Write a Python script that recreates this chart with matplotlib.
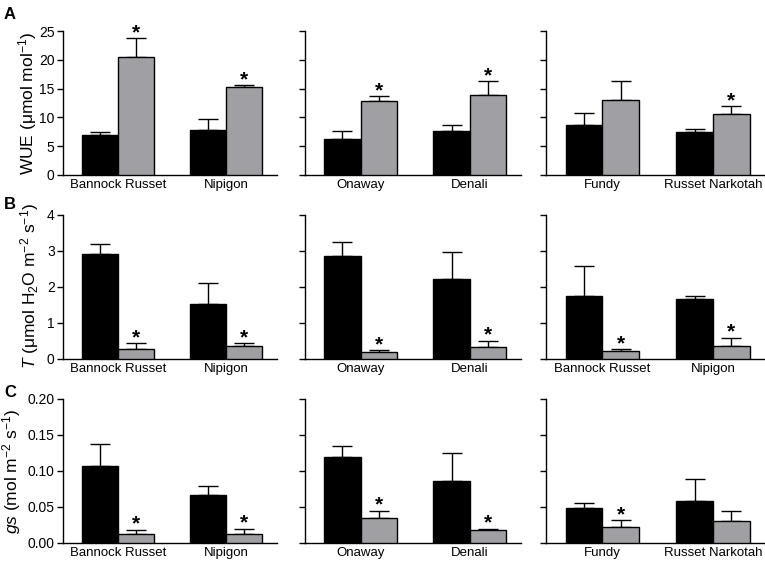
import numpy as np
import matplotlib
matplotlib.use("Agg")
from matplotlib import pyplot as plt

plt.rcParams['font.family'] = ['Liberation Sans', 'DejaVu Sans']
plt.rcParams['mathtext.fontset'] = 'custom'
plt.rcParams['mathtext.rm'] = 'Liberation Sans'
plt.rcParams['mathtext.it'] = 'Liberation Sans:italic'

# cultivar names per panel (row, column)
names_A = [["Bannock Russet", "Nipigon"], ["Onaway", "Denali"], ["Fundy", "Russet Narkotah"]]
names_B = [["Bannock Russet", "Nipigon"], ["Onaway", "Denali"], ["Bannock Russet", "Nipigon"]]
names_C = [["Bannock Russet", "Nipigon"], ["Onaway", "Denali"], ["Fundy", "Russet Narkotah"]]

# WUE
wue_black = [[6.9, 7.8], [6.25, 7.6], [8.75, 7.4]]
wue_black_err = [[0.6, 1.9], [1.45, 1.15], [2.05, 0.5]]
wue_gray = [[20.4, 15.25], [12.8, 13.9], [13.05, 10.6]]
wue_gray_err = [[3.3, 0.3], [0.9, 2.4], [3.3, 1.3]]
wue_star = [[True, True], [True, True], [False, True]]

# Transpiration
t_black = [[2.9, 1.51], [2.86, 2.22], [1.75, 1.64]]
t_black_err = [[0.28, 0.6], [0.38, 0.75], [0.82, 0.11]]
t_gray = [[0.27, 0.36], [0.18, 0.33], [0.2, 0.36]]
t_gray_err = [[0.15, 0.06], [0.05, 0.17], [0.06, 0.22]]
t_star = [[True, True], [True, True], [True, True]]

# Stomatal conductance
gs_black = [[0.1065, 0.067], [0.12, 0.0855], [0.049, 0.0585]]
gs_black_err = [[0.031, 0.012], [0.015, 0.04], [0.006, 0.031]]
gs_gray = [[0.013, 0.013], [0.035, 0.0185], [0.022, 0.03]]
gs_gray_err = [[0.0055, 0.007], [0.01, 0.0015], [0.01, 0.014]]
gs_star = [[True, True], [True, True], [True, False]]

rows = [
    ("A", names_A, wue_black, wue_black_err, wue_gray, wue_gray_err, wue_star,
     [0, 5, 10, 15, 20, 25], "%d", r"WUE ($\mathrm{\mu}$mol mol$^{-1}$)"),
    ("B", names_B, t_black, t_black_err, t_gray, t_gray_err, t_star,
     [0, 1, 2, 3, 4], "%d", r"$\it{T}$ ($\mathrm{\mu}$mol H$_2$O m$^{-2}$ s$^{-1}$)"),
    ("C", names_C, gs_black, gs_black_err, gs_gray, gs_gray_err, gs_star,
     [0, 0.05, 0.10, 0.15, 0.20], "%.2f", r"$\it{gs}$ (mol m$^{-2}$ s$^{-1}$)"),
]

fig = plt.figure(figsize=(7.65, 5.64), dpi=100)

W, H = 765.0, 564.0
col_left = [63, 305, 546]
col_width = [214, 216, 219]
row_bottom = [175, 358.5, 543]
label_top = [7, 197, 385]
ylab_x = [-0.11, -0.105, -0.185]
ax_h = 144

w = 0.333
gray_col = '#a0a0a4'

for r, (lab, names, bk, bke, gr, gre, star, yt, fmt, ylab) in enumerate(rows):
    for c in range(3):
        ax = fig.add_axes([col_left[c] / W, (H - row_bottom[r]) / H,
                           col_width[c] / W, ax_h / H])
        x = np.arange(2)
        ax.bar(x - w / 2, bk[c], w, color='black', edgecolor='black', linewidth=1, zorder=3)
        ax.bar(x + w / 2, gr[c], w, color=gray_col, edgecolor='black', linewidth=1, zorder=3)
        ax.errorbar(x - w / 2, bk[c], yerr=[np.zeros(2), bke[c]], fmt='none',
                    ecolor='black', elinewidth=1, capsize=7.5, capthick=1, zorder=2)
        ax.errorbar(x + w / 2, gr[c], yerr=[np.zeros(2), gre[c]], fmt='none',
                    ecolor='black', elinewidth=1, capsize=7.5, capthick=1, zorder=2)
        for i in range(2):
            if star[c][i]:
                top = gr[c][i] + gre[c][i]
                ax.annotate('*', xy=(x[i] + w / 2, top), xytext=(0, -3),
                            textcoords='offset points', ha='center', va='bottom',
                            fontsize=15, fontweight='bold')
        ax.set_xlim(-0.51, 1.47)
        ax.set_ylim(yt[0], yt[-1])
        ax.set_yticks(yt)
        ax.set_xticks(x)
        ax.set_xticklabels(names[c], fontsize=9.5)
        ax.tick_params(axis='x', length=0, pad=3)
        ax.tick_params(axis='y', length=4, width=1, direction='out', labelsize=10, pad=2)
        ax.spines['top'].set_visible(False)
        ax.spines['right'].set_visible(False)
        ax.spines['left'].set_linewidth(1)
        ax.spines['bottom'].set_linewidth(1)
        if c == 0:
            ax.set_yticklabels([fmt % v for v in yt])
            ax.set_ylabel(ylab, fontsize=12.5)
            ax.yaxis.set_label_coords(ylab_x[r], 0.5)
        else:
            ax.set_yticklabels([])
    fig.text(4 / W, 1 - label_top[r] / H, lab, fontsize=12,
             fontweight='bold', va='top', ha='left')

fig.savefig("out.png", dpi=100)
